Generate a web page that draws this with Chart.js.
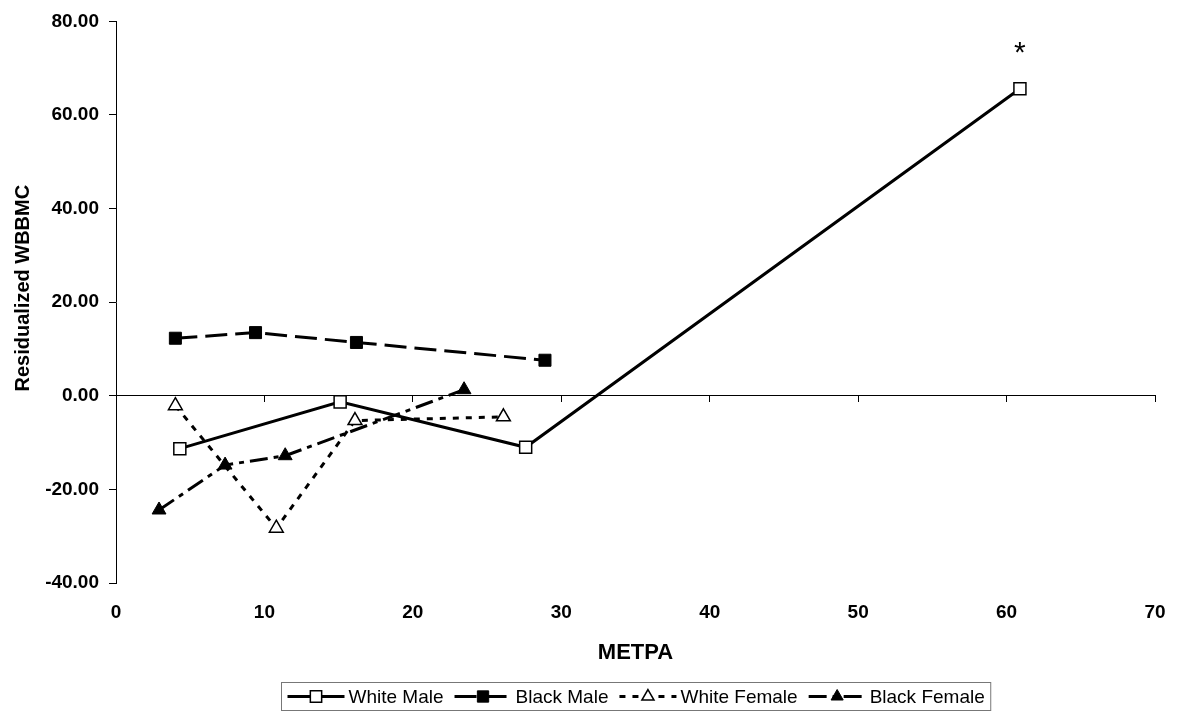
<!DOCTYPE html>
<html>
<head>
<meta charset="utf-8">
<script src="https://cdn.jsdelivr.net/npm/chart.js@4.4.0/dist/chart.umd.min.js"></script>
<style>
    body { margin: 0; background: #fff; }
    canvas { display: block; }
</style>
</head>
<body>
<canvas id="chart" width="1178" height="713"></canvas>
<script>
// values
const whiteMaleX = [4.3, 15.1, 27.6, 60.9];
const whiteMaleY = [-11.3, -1.3, -11.0, 65.6];

const blackMaleX = [4.0, 9.4, 16.2, 28.9];
const blackMaleY = [12.3, 13.5, 11.4, 7.6];

const whiteFemaleX = [4.0, 10.8, 16.1, 26.1];
const whiteFemaleY = [-2.1, -28.3, -5.3, -4.5];

const blackFemaleX = [2.9, 7.35, 11.4, 23.45];
const blackFemaleY = [-24.4, -14.8, -12.8, 1.3];

const xTicks = [0, 10, 20, 30, 40, 50, 60, 70];
const yTicks = [-40, -20, 0, 20, 40, 60, 80];

const starNote = { x: 60.9, y: 65.6, text: '*' };

const FONT = '"Liberation Sans", Arial, sans-serif';

function toPoints(xs, ys) {
    return xs.map((x, i) => ({ x: x, y: ys[i] }));
}

const datasets = [
    {
        label: 'White Male',
        data: toPoints(whiteMaleX, whiteMaleY),
        borderColor: '#000',
        borderWidth: 3,
        pointStyle: 'rect',
        pointRadius: 8.5,
        pointBackgroundColor: '#fff',
        pointBorderColor: '#000',
        pointBorderWidth: 1.5
    },
    {
        label: 'Black Male',
        data: toPoints(blackMaleX, blackMaleY),
        borderColor: '#000',
        borderWidth: 3,
        borderDash: [22, 8],
        pointStyle: 'rect',
        pointRadius: 8.5,
        pointBackgroundColor: '#000',
        pointBorderColor: '#000',
        pointBorderWidth: 1
    },
    {
        label: 'White Female',
        data: toPoints(whiteFemaleX, whiteFemaleY),
        borderColor: '#000',
        borderWidth: 3,
        borderDash: [6, 7],
        pointStyle: 'triangle',
        pointRadius: 8,
        pointBackgroundColor: '#fff',
        pointBorderColor: '#000',
        pointBorderWidth: 1.5
    },
    {
        label: 'Black Female',
        data: toPoints(blackFemaleX, blackFemaleY),
        borderColor: '#000',
        borderWidth: 3,
        borderDash: [18, 6, 5, 6],
        pointStyle: 'triangle',
        pointRadius: 8,
        pointBackgroundColor: '#000',
        pointBorderColor: '#000',
        pointBorderWidth: 1
    }
];

// y title, asterisk note and the boxed legend
const extrasPlugin = {
    id: 'extras',
    afterDraw(chart) {
        const ctx = chart.ctx;
        const area = chart.chartArea;
        const xs = chart.scales.x;
        const ys = chart.scales.y;

        // y axis title
        ctx.save();
        ctx.translate(23, (area.top + area.bottom) / 2 - 14);
        ctx.rotate(-Math.PI / 2);
        ctx.font = 'bold 20px ' + FONT;
        ctx.fillStyle = '#000';
        ctx.textAlign = 'center';
        ctx.textBaseline = 'middle';
        ctx.fillText('Residualized WBBMC', 0, 0);
        ctx.restore();

        // asterisk above the last white male point
        ctx.save();
        ctx.font = '30px ' + FONT;
        ctx.fillStyle = '#000';
        ctx.textAlign = 'center';
        ctx.textBaseline = 'alphabetic';
        ctx.fillText(starNote.text, xs.getPixelForValue(starNote.x), ys.getPixelForValue(starNote.y) - 27);
        ctx.restore();

        // legend
        ctx.save();
        ctx.font = '19px ' + FONT;
        const sampleW = 57, textGap = 4, itemGap = 11, padX = 6;
        const widths = datasets.map(d => ctx.measureText(d.label).width);
        let total = padX * 2;
        widths.forEach((w, i) => {
            total += sampleW + textGap + w + (i < widths.length - 1 ? itemGap : 0);
        });
        const boxLeft = Math.round((area.left + area.right) / 2 - total / 2) + 0.5;
        const boxTop = 682.5, boxH = 28;
        ctx.strokeStyle = '#777';
        ctx.lineWidth = 1;
        ctx.strokeRect(boxLeft, boxTop, total, boxH);

        const cy = boxTop + boxH / 2;
        let cx = boxLeft + padX;
        datasets.forEach((d, i) => {
            ctx.save();
            ctx.strokeStyle = '#000';
            ctx.lineWidth = 3;
            ctx.setLineDash(d.borderDash || []);
            ctx.beginPath();
            ctx.moveTo(cx, cy);
            ctx.lineTo(cx + sampleW, cy);
            ctx.stroke();
            ctx.setLineDash([]);
            ctx.fillStyle = d.pointBackgroundColor;
            ctx.strokeStyle = d.pointBorderColor;
            ctx.lineWidth = d.pointBorderWidth;
            Chart.helpers.drawPoint(ctx, {
                pointStyle: d.pointStyle,
                radius: d.pointStyle === 'rect' ? 8 : 7,
                rotation: 0,
                borderWidth: d.pointBorderWidth
            }, cx + sampleW / 2, cy);
            ctx.restore();

            ctx.fillStyle = '#000';
            ctx.textAlign = 'left';
            ctx.textBaseline = 'middle';
            ctx.fillText(d.label, cx + sampleW + textGap, cy + 1);
            cx += sampleW + textGap + widths[i] + itemGap;
        });
        ctx.restore();
    }
};

new Chart(document.getElementById('chart'), {
    type: 'line',
    data: { datasets: datasets },
    plugins: [extrasPlugin],
    options: {
        responsive: false,
        animation: false,
        layout: { padding: { left: 0, right: 23, top: 18, bottom: 0 } },
        plugins: {
            legend: { display: false },
            tooltip: { enabled: false }
        },
        scales: {
            x: {
                type: 'linear',
                position: 'bottom',
                min: 0,
                max: 70,
                afterBuildTicks: s => { s.ticks = xTicks.map(v => ({ value: v })); },
                ticks: {
                    padding: 18,
                    maxRotation: 0,
                    color: '#000',
                    font: { family: FONT, size: 19, weight: 'bold' }
                },
                grid: { display: false, drawTicks: false },
                border: { display: false },
                title: {
                    display: true,
                    text: 'METPA',
                    color: '#000',
                    font: { family: FONT, size: 22, weight: 'bold' },
                    padding: { top: 0, bottom: 47 }
                },
                afterFit: s => {
                    s.height = 130;
                    s.paddingLeft = 0;
                    s.paddingRight = 0;
                }
            },
            zero: {
                type: 'linear',
                axis: 'x',
                position: { y: 0 },
                min: 0,
                max: 70,
                afterBuildTicks: s => { s.ticks = xTicks.map(v => ({ value: v })); },
                ticks: { display: false },
                grid: { drawOnChartArea: false, tickLength: 6, color: '#000', lineWidth: 1 },
                border: { color: '#000', width: 1 }
            },
            y: {
                type: 'linear',
                min: -40,
                max: 80,
                afterBuildTicks: s => { s.ticks = yTicks.map(v => ({ value: v })); },
                ticks: {
                    padding: 10,
                    color: '#000',
                    font: { family: FONT, size: 19, weight: 'bold' },
                    callback: v => v.toFixed(2)
                },
                grid: { drawOnChartArea: false, tickLength: 7, color: '#000', lineWidth: 1 },
                border: { color: '#000', width: 1 },
                afterFit: s => { s.width = 116; }
            }
        }
    }
});
</script>
</body>
</html>
